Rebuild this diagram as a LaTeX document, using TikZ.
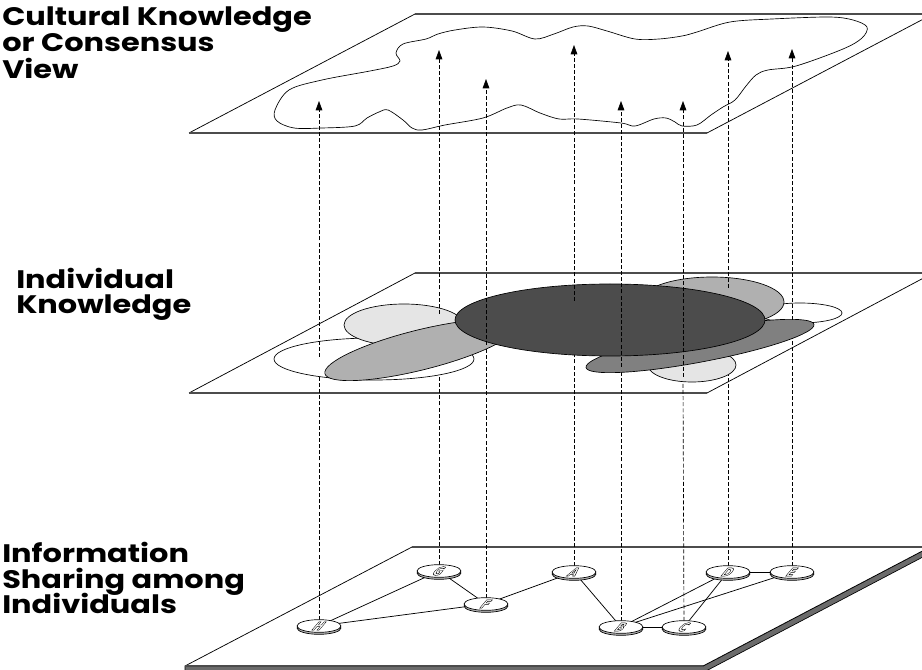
\documentclass[tikz,border=0pt]{standalone}
\usepackage{fontspec}
\newfontfamily\lblfont{Poppins}[FakeStretch=1.2]
\newfontfamily\letterfont{DejaVu Sans}
\usetikzlibrary{arrows.meta,shapes.geometric,shadows}
\newcommand\hollowtxt[1]{\special{pdf:literal direct 1 Tr 0.4 w}#1\special{pdf:literal direct 0 Tr}}
\pgfdeclarelayer{planes}
\pgfdeclarelayer{lowlines}
\pgfdeclarelayer{persons}
\pgfsetlayers{planes,lowlines,persons,main}
\begin{document}
\begin{tikzpicture}[x=0.75pt,y=-0.75pt,
  hedge/.style={draw=black!70, line width=0.9pt},
  sedge/.style={draw=black, line width=0.55pt},
  link/.style={draw=black, line width=0.55pt},
  updash/.style={draw=black, line width=0.5pt, dash pattern=on 3pt off 1.6pt},
  uparrow/.style={updash, -{Triangle[length=7pt,width=5pt]}},
  person/.style={draw=black, line width=0.5pt},
  disc/.style={ellipse, draw=black, line width=0.5pt, fill=white, minimum width=33pt, minimum height=9.5pt, inner sep=0pt,
    copy shadow={shadow xshift=0pt, shadow yshift=-1.5pt, fill=gray!60, draw=black, opacity=1}},
  letter/.style={inner sep=0pt, cm={0.8,0,0.7,0.82,(0,0)}, font=\letterfont\bfseries\fontsize{10.5}{10.5}\selectfont},
  heading/.style={anchor=base west, inner sep=0pt, font=\lblfont\bfseries\fontsize{19}{24}\selectfont}
]
\useasboundingbox (0,0) rectangle (922,670);
\clip (0,0) rectangle (922,670);

% ---------- planes ----------
\begin{pgfonlayer}{planes}
  % top plane
  \draw[sedge] (189,133) -- (415,14);
  \draw[hedge] (415,14) -- (940,14);
  \draw[hedge] (189,133) -- (707,133);
  \draw[sedge] (707,133) -- (933,14);
  % cultural consensus outline
  \draw[line width=0.5pt] plot[smooth cycle, tension=0.55] coordinates {
    (275,110) (289,90) (322,80) (370,71) (393,66) (400,61) (396,53) (403,44)
    (426,39) (438,34) (455,30) (483,27) (512,31) (535,39) (554,34) (573,27)
    (588,26) (607,31) (635,39) (659,39) (682,36) (697,32) (730,22) (772,19)
    (829,17) (853,20) (867,27) (862,38) (843,49) (796,66) (768,70) (756,75)
    (746,86) (735,100) (723,107) (711,115) (697,125) (682,126) (675,122)
    (666,118) (654,119) (635,126) (621,123) (578,119) (559,119) (540,113)
    (521,105) (507,108) (483,118) (445,125) (422,130) (412,128) (403,120)
    (388,110) (379,112) (367,118) (355,126) (322,128) (294,128) (277,121)};
  % middle plane
  \draw[sedge] (189,393) -- (415,273);
  \draw[hedge] (415,273) -- (940,273);
  \draw[hedge] (189,393) -- (707,393);
  \draw[sedge] (707,393) -- (933,273);
  % bottom plane (slab)
  \filldraw[fill=black!58, draw=black, line width=0.5pt]
    (185,666) -- (703,666) -- (930,547) -- (940,548) -- (706,671) -- (185,671) -- cycle;
  \fill[white] (185,666) -- (412,547) -- (940,547) -- (930,547) -- (703,666) -- cycle;
  \draw[sedge] (185,666) -- (412,547);
  \draw[hedge] (412,547) -- (940,547);
  \draw[hedge] (185,666) -- (703,666);
  \draw[sedge] (703,666) -- (930,547);
\end{pgfonlayer}

% ---------- individuals on the bottom plane ----------
\node[disc] (H) at (319,626) {};
\node[disc] (G) at (439,571) {};
\node[disc] (F) at (486,604) {};
\node[disc] (A) at (574,572) {};
\node[disc] (B) at (621,627) {};
\node[disc] (C) at (684,627) {};
\node[disc] (D) at (728,572) {};
\node[disc] (E) at (792,572) {};
\foreach \n in {H,G,F,A,B,C,D,E}
  \node[letter] (\n lab) at (\n) {\hollowtxt{\n}};

% points inside the individual knowledge regions
\coordinate (h2) at (319,357);
\coordinate (g2) at (439,314);
\coordinate (f2) at (486,345);
\coordinate (a2) at (574,301);
\coordinate (b2) at (621,367);
\coordinate (c2) at (683,377);
\coordinate (d2) at (728,288);
\coordinate (e2) at (792,320);
% arrow tips in the consensus plane
\coordinate (h3) at (319,101);
\coordinate (g3) at (439,50);
\coordinate (f3) at (486,79);
\coordinate (a3) at (574,45);
\coordinate (b3) at (621,101);
\coordinate (c3) at (683,101);
\coordinate (d3) at (728,51);
\coordinate (e3) at (792,49);

% ---------- connectors and lower dashed lines ----------
\begin{pgfonlayer}{lowlines}
  \draw[link] (H.center) -- (G.center);
  \draw[link] (G.center) -- (F.center);
  \draw[link] (H.center) -- (F.center);
  \draw[link] (F.center) -- (A.center);
  \draw[link] (A.center) -- (B.center);
  \draw[link] (B.center) -- (C.center);
  \draw[link] (B.center) -- (D.center);
  \draw[link] (B.center) -- (E.center);
  \draw[link] (C.center) -- (D.center);
  \draw[link] (D.center) -- (E.center);
  \draw[updash] (H.center) -- (h2);
  \draw[updash] (G.center) -- (g2);
  \draw[updash] (F.center) -- (f2);
  \draw[updash] (A.center) -- (a2);
  \draw[updash] (B.center) -- (b2);
  \draw[updash] (C.center) -- (c2);
  \draw[updash] (D.center) -- (d2);
  \draw[updash] (E.center) -- (e2);
\end{pgfonlayer}

% ---------- individual knowledge regions ----------
\begin{pgfonlayer}{persons}
  \filldraw[person, fill=white] (374,359) ellipse [x radius=100, y radius=21];
  \filldraw[person, fill=black!10] (404,325) ellipse [x radius=60, y radius=21];
  \filldraw[person, fill=black!31, rotate around={14:(420,350)}] (420,350) ellipse [x radius=98, y radius=20];
  \filldraw[person, fill=black!10] (692,365) ellipse [x radius=44, y radius=17];
  \filldraw[person, fill=white] (800,313) ellipse [x radius=42, y radius=10];
  \filldraw[person, fill=black!31] (712,302) ellipse [x radius=72, y radius=25];
  \filldraw[person, fill=black!50, rotate around={10.7:(700,346)}] (700,346) ellipse [x radius=116, y radius=16];
  \filldraw[person, fill=black!70] (610,320) ellipse [x radius=155, y radius=36];
\end{pgfonlayer}

% ---------- upper arrows ----------
\draw[uparrow] (h2) -- (h3);
\draw[uparrow] (g2) -- (g3);
\draw[uparrow] (f2) -- (f3);
\draw[uparrow] (a2) -- (a3);
\draw[uparrow] (b2) -- (b3);
\draw[uparrow] (c2) -- (c3);
\draw[uparrow] (d2) -- (d3);
\draw[uparrow] (e2) -- (e3);

% ---------- headings ----------
\node[heading] (t1) at (2,26) {Cultural Knowledge};
\node[heading] (t2) at (2,52) {or Consensus};
\node[heading] (t3) at (2,79) {View};
\node[heading] (t4) at (16,289) {Individual};
\node[heading] (t5) at (16,314) {Knowledge};
\node[heading] (t6) at (2,562) {Information};
\node[heading] (t7) at (2,588) {Sharing among};
\node[heading] (t8) at (2,613) {Individuals};
\end{tikzpicture}
\end{document}
